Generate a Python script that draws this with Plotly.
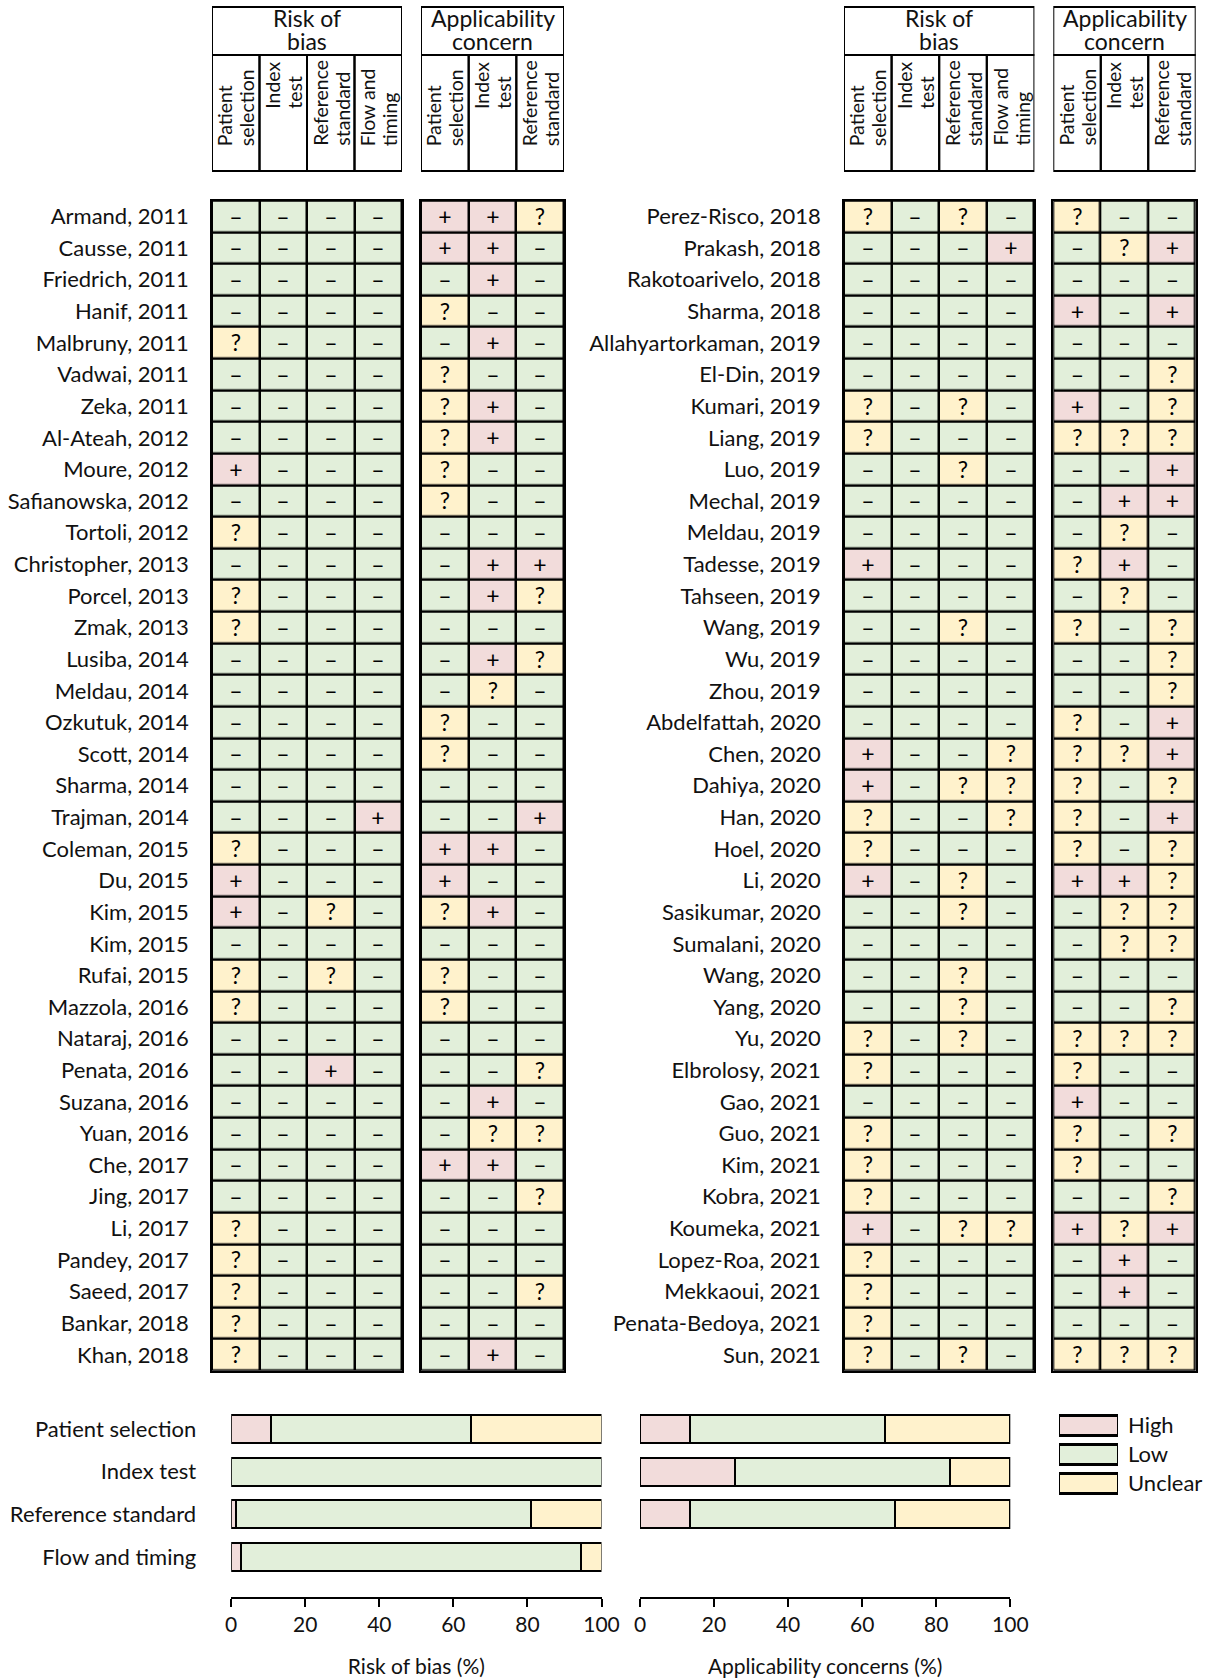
import plotly.graph_objects as go

W, H = 1220, 1678

# ---------------- data ----------------
# "+" = High, "-" = Low, "?" = Unclear
left_names = ["Armand, 2011", "Causse, 2011", "Friedrich, 2011", "Hanif, 2011", "Malbruny, 2011",
              "Vadwai, 2011", "Zeka, 2011", "Al-Ateah, 2012", "Moure, 2012", "Safianowska, 2012",
              "Tortoli, 2012", "Christopher, 2013", "Porcel, 2013", "Zmak, 2013", "Lusiba, 2014",
              "Meldau, 2014", "Ozkutuk, 2014", "Scott, 2014", "Sharma, 2014", "Trajman, 2014",
              "Coleman, 2015", "Du, 2015", "Kim, 2015", "Kim, 2015", "Rufai, 2015",
              "Mazzola, 2016", "Nataraj, 2016", "Penata, 2016", "Suzana, 2016", "Yuan, 2016",
              "Che, 2017", "Jing, 2017", "Li, 2017", "Pandey, 2017", "Saeed, 2017",
              "Bankar, 2018", "Khan, 2018"]
left_rob = ["----", "----", "----", "----", "?---",
            "----", "----", "----", "+---", "----",
            "?---", "----", "?---", "?---", "----",
            "----", "----", "----", "----", "---+",
            "?---", "+---", "+-?-", "----", "?-?-",
            "?---", "----", "--+-", "----", "----",
            "----", "----", "?---", "?---", "?---",
            "?---", "?---"]
left_ac = ["++?", "++-", "-+-", "?--", "-+-",
           "?--", "?+-", "?+-", "?--", "?--",
           "---", "-++", "-+?", "---", "-+?",
           "-?-", "?--", "?--", "---", "--+",
           "++-", "+--", "?+-", "---", "?--",
           "?--", "---", "--?", "-+-", "-??",
           "++-", "--?", "---", "---", "--?",
           "---", "-+-"]

right_names = ["Perez-Risco, 2018", "Prakash, 2018", "Rakotoarivelo, 2018", "Sharma, 2018",
               "Allahyartorkaman, 2019", "El-Din, 2019", "Kumari, 2019", "Liang, 2019", "Luo, 2019",
               "Mechal, 2019", "Meldau, 2019", "Tadesse, 2019", "Tahseen, 2019", "Wang, 2019",
               "Wu, 2019", "Zhou, 2019", "Abdelfattah, 2020", "Chen, 2020", "Dahiya, 2020",
               "Han, 2020", "Hoel, 2020", "Li, 2020", "Sasikumar, 2020", "Sumalani, 2020",
               "Wang, 2020", "Yang, 2020", "Yu, 2020", "Elbrolosy, 2021", "Gao, 2021",
               "Guo, 2021", "Kim, 2021", "Kobra, 2021", "Koumeka, 2021", "Lopez-Roa, 2021",
               "Mekkaoui, 2021", "Penata-Bedoya, 2021", "Sun, 2021"]
right_rob = ["?-?-", "---+", "----", "----",
             "----", "----", "?-?-", "?---", "--?-",
             "----", "----", "+---", "----", "--?-",
             "----", "----", "----", "+--?", "+-??",
             "?--?", "?---", "+-?-", "--?-", "----",
             "--?-", "--?-", "?-?-", "?---", "----",
             "?---", "?---", "?---", "+-??", "?---",
             "?---", "?---", "?-?-"]
right_ac = ["?--", "-?+", "---", "+-+",
            "---", "--?", "+-?", "???", "--+",
            "-++", "-?-", "?+-", "-?-", "?-?",
            "--?", "--?", "?-+", "??+", "?-?",
            "?-+", "?-?", "++?", "-??", "-??",
            "---", "--?", "???", "?--", "+--",
            "?-?", "?--", "--?", "+?+", "-+-",
            "-+-", "---", "???"]

rob_domains = ["Patient selection", "Index test", "Reference standard", "Flow and timing"]
rob_headers = [("Patient", "selection"), ("Index", "test"), ("Reference", "standard"), ("Flow and", "timing")]
ac_headers = [("Patient", "selection"), ("Index", "test"), ("Reference", "standard")]
rob_title = ("Risk of", "bias")
ac_title = ("Applicability", "concern")
levels = ["+", "-", "?"]
legend_labels = ["High", "Low", "Unclear"]

# ---------------- style ----------------
FONT = "Lato, Calibri, 'Open Sans', sans-serif"
TXT = "#111111"
C = {"+": "#F2DCDB", "-": "#E2EFDA", "?": "#FFF2CC"}
SYM = {"+": "+", "-": "\u2013", "?": "?"}
CODE = {"-": 0, "+": 1, "?": 2}
cscale = [[0, C["-"]], [0.3333, C["-"]], [0.3333, C["+"]], [0.6667, C["+"]],
          [0.6667, C["?"]], [1, C["?"]]]


def px(x):
    return x / W


def py(y):
    return 1 - y / H


fig = go.Figure()
layout = dict(width=W, height=H, autosize=False, margin=dict(l=0, r=0, t=0, b=0, pad=0),
              paper_bgcolor="white", plot_bgcolor="white", showlegend=False,
              barmode="stack", font=dict(family=FONT, color=TXT, size=20))
shapes, annotations = [], []

GRID_TOP, GRID_BOT = 200.7, 1370.7
HEAD_TOP, HEAD_MID, HEAD_BOT = 7, 55, 171
# bottom (text start) of rotated header labels, per column kind
HEAD_TEXT_BOTTOM = {"Patient": 148, "Index": 111, "Reference": 148, "Flow and": 148}

grids = [
    (1, left_names, left_rob, 212.0, 402.0, rob_headers, rob_title),
    (2, None, left_ac, 421.0, 564.0, ac_headers, ac_title),
    (3, right_names, right_rob, 844.0, 1034.4, rob_headers, rob_title),
    (4, None, right_ac, 1053.3, 1195.7, ac_headers, ac_title),
]

for k, names, data, x0, x1, headers, title in grids:
    nrow, ncol = len(data), len(data[0])
    xa, ya = ("x", "y") if k == 1 else (f"x{k}", f"y{k}")
    z = [[CODE[c] for c in row] for row in data]
    t = [[SYM[c] for c in row] for row in data]
    fig.add_trace(go.Heatmap(z=z, text=t, x=list(range(ncol)), y=list(range(nrow)),
                             texttemplate="%{text}", textfont=dict(size=23, color="#000000", family=FONT),
                             colorscale=cscale, zmin=0, zmax=2, showscale=False,
                             xgap=2.5, ygap=2.5, hoverinfo="skip", xaxis=xa, yaxis=ya))
    shapes.append(dict(type="rect", xref=f"{xa} domain", yref=f"{ya} domain", x0=0, x1=1, y0=0, y1=1,
                       fillcolor="black", line=dict(width=0), layer="below"))
    sfx = "" if k == 1 else str(k)
    layout[f"xaxis{sfx}"] = dict(domain=[px(x0), px(x1)], range=[-0.5, ncol - 0.5], anchor=ya,
                                 showticklabels=False, showgrid=False, zeroline=False, ticks="",
                                 automargin=False,
                                 showline=True, mirror=True, linecolor="black", linewidth=1.5)
    yax = dict(domain=[py(GRID_BOT), py(GRID_TOP)], range=[nrow - 0.5, -0.5], anchor=xa,
               showgrid=False, zeroline=False, ticks="", automargin=False,
               showline=True, mirror=True, linecolor="black", linewidth=1.5)
    if names:
        yax.update(tickvals=list(range(nrow)), ticktext=names, ticklabelstandoff=17,
                   tickfont=dict(size=22, color=TXT, family=FONT))
    else:
        yax.update(showticklabels=False)
    layout[f"yaxis{sfx}"] = yax
    # header boxes
    shapes.append(dict(type="rect", xref=xa, yref="paper", x0=-0.5, x1=ncol - 0.5,
                       y0=py(HEAD_MID), y1=py(HEAD_TOP), line=dict(color="black", width=2)))
    for line_txt, yy in zip(title, (18, 41)):
        annotations.append(dict(x=(ncol - 1) / 2, xref=xa, y=py(yy), yref="paper", text=line_txt,
                                showarrow=False, font=dict(size=23, color=TXT), yanchor="middle"))
    for i, (l1, l2) in enumerate(headers):
        shapes.append(dict(type="rect", xref=xa, yref="paper", x0=i - 0.5, x1=i + 0.5,
                           y0=py(HEAD_BOT), y1=py(HEAD_MID), line=dict(color="black", width=2)))
        yb = HEAD_TEXT_BOTTOM[l1]
        for line_txt, dx in ((l1, -11), (l2, 11)):
            annotations.append(dict(x=i, xref=xa, y=py(yb), yref="paper", text=line_txt,
                                    textangle=-90, showarrow=False, xanchor="center",
                                    yanchor="bottom", xshift=dx, font=dict(size=19.5, color=TXT)))


# ---------------- summary bars ----------------
def summary(cols_a, cols_b, ncol):
    rows = cols_a + cols_b
    out = {}
    for lv in levels:
        out[lv] = [100.0 * sum(1 for r in rows if r[j] == lv) / len(rows) for j in range(ncol)]
    return out


rob_sum = summary(left_rob, right_rob, 4)
ac_sum = summary(left_ac, right_ac, 3)

BAR_TOP, BAR_STEP, AX_Y = 1407.6, 42.7, 1597.0
bar_w = 28 / BAR_STEP
yrng_bottom = (AX_Y - BAR_TOP) / BAR_STEP - 0.5

panels = [(5, rob_sum, 4, 231.2, 601.5, "Risk of bias (%)", True),
          (6, ac_sum, 3, 640.0, 1010.3, "Applicability concerns (%)", False)]
for k, sm, n, x0, x1, title, labels in panels:
    for lv in levels:
        vals = [v if v > 0 else None for v in sm[lv]]
        fig.add_trace(go.Bar(x=vals, y=list(range(n)), orientation="h", width=bar_w,
                             marker=dict(color=C[lv], line=dict(color="black", width=2)),
                             hoverinfo="skip", xaxis=f"x{k}", yaxis=f"y{k}"))
    layout[f"xaxis{k}"] = dict(domain=[px(x0), px(x1)], range=[0, 100], anchor=f"y{k}",
                               tickvals=[0, 20, 40, 60, 80, 100], showgrid=False, zeroline=False,
                               showline=True, linecolor="black", linewidth=2, automargin=False,
                               ticks="outside", ticklen=8, tickwidth=2, tickcolor="black",
                               tickfont=dict(size=21, color=TXT),
                               title=dict(text=title, font=dict(size=21, color=TXT), standoff=24))
    yax = dict(domain=[py(AX_Y), py(BAR_TOP)], range=[yrng_bottom, -0.5], anchor=f"x{k}",
               showgrid=False, zeroline=False, showline=False, ticks="", automargin=False)
    if labels:
        yax.update(tickvals=list(range(len(rob_domains))), ticktext=rob_domains,
                   ticklabelstandoff=34, tickfont=dict(size=22, color=TXT))
    else:
        yax.update(showticklabels=False)
    layout[f"yaxis{k}"] = yax

# ---------------- legend ----------------
LEG_STEP = 29
LEG_TOP = 1425.5 - LEG_STEP / 2
fig.add_trace(go.Bar(x=[1, 1, 1], y=[0, 1, 2], orientation="h", width=20 / LEG_STEP,
                     marker=dict(color=[C[lv] for lv in levels], line=dict(color="black", width=2.5)),
                     hoverinfo="skip", xaxis="x7", yaxis="y7"))
layout["xaxis7"] = dict(domain=[px(1059), px(1118)], range=[0, 1], anchor="y7", visible=False,
                        automargin=False)
layout["yaxis7"] = dict(domain=[py(LEG_TOP + 3 * LEG_STEP), py(LEG_TOP)], range=[2.5, -0.5],
                        anchor="x7", side="right", tickvals=[0, 1, 2], ticktext=legend_labels,
                        ticklabelstandoff=9, showgrid=False, zeroline=False, showline=False,
                        ticks="", tickfont=dict(size=22, color=TXT), automargin=False)

layout["shapes"] = shapes
layout["annotations"] = annotations
fig.update_layout(**layout)
fig.write_html("out.html",
               config={"displayModeBar": False, "responsive": False},
               post_script="document.documentElement.style.overflow='hidden';"
                           "document.body.style.margin='0';document.body.style.overflow='hidden';")
